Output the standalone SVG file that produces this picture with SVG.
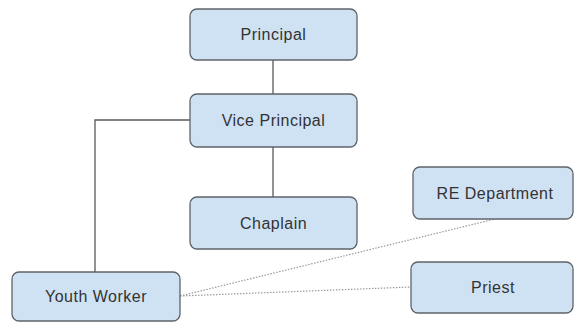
<svg xmlns="http://www.w3.org/2000/svg" width="574" height="322" viewBox="0 0 574 322">
<style>
.box{fill:#cfe2f3;stroke:#5f6368;stroke-width:1.3}
.lbl{font-family:"Liberation Sans",Arial,sans-serif;font-size:16px;letter-spacing:0.5px;fill:#333;text-anchor:middle;dominant-baseline:central}
.solid{fill:none;stroke:#595959;stroke-width:1.3}
.dot{fill:none;stroke:#999;stroke-width:1.2;stroke-dasharray:1.5 1.5}
</style>
<rect width="574" height="322" fill="#fff"/>
<g id="connectors">
<line class="solid" x1="273" y1="60" x2="273" y2="94"/>
<line class="solid" x1="273" y1="147" x2="273" y2="197"/>
<polyline class="solid" points="190,120 95,120 95,272"/>
<line class="dot" x1="180" y1="296" x2="495" y2="219"/>
<line class="dot" x1="180" y1="296" x2="411" y2="287"/>
</g>
<g id="principal"><rect class="box" x="190" y="9" width="167" height="51" rx="7"/><text class="lbl" x="273.5" y="34.5">Principal</text></g>
<g id="vice-principal"><rect class="box" x="190" y="94" width="167" height="53" rx="7"/><text class="lbl" x="273.5" y="120.5">Vice Principal</text></g>
<g id="chaplain"><rect class="box" x="190" y="197" width="167" height="52" rx="7"/><text class="lbl" x="273.5" y="223">Chaplain</text></g>
<g id="youth-worker"><rect class="box" x="12" y="272" width="168" height="49" rx="7"/><text class="lbl" x="96" y="296.5">Youth Worker</text></g>
<g id="re-department"><rect class="box" x="413" y="167" width="160" height="52" rx="7"/><text class="lbl" x="495" y="193">RE Department</text></g>
<g id="priest"><rect class="box" x="411" y="262" width="162" height="51" rx="7"/><text class="lbl" x="493" y="287.5">Priest</text></g>
</svg>
